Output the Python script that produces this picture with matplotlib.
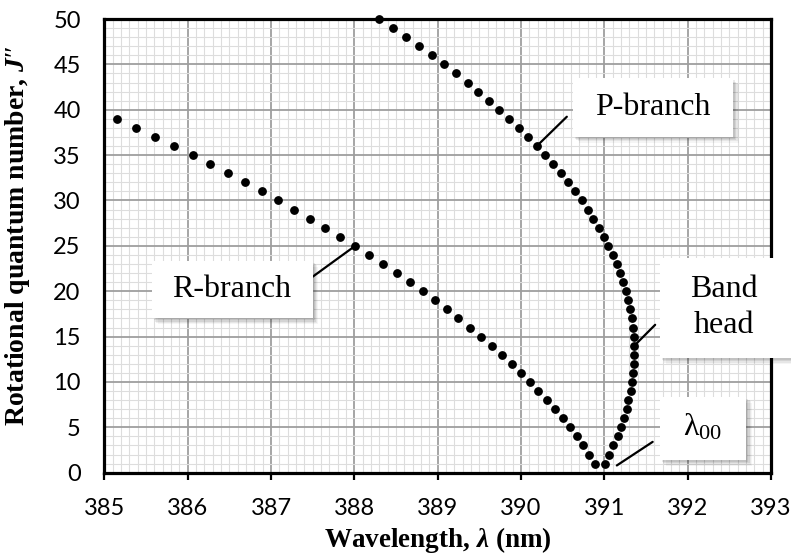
import numpy as np
import matplotlib.pyplot as plt
from matplotlib.patches import Rectangle

plt.rcParams['mathtext.fontset'] = 'custom'
plt.rcParams['mathtext.rm'] = 'Liberation Serif'
plt.rcParams['mathtext.it'] = 'Liberation Serif:italic:bold'

# R-branch: J'' = 1..39, wavelength (nm)
r_j = list(range(1, 40))
r_wl = [390.89, 390.82, 390.75, 390.67, 390.59, 390.50, 390.41, 390.31, 390.21, 390.11,
        390.00, 389.89, 389.77, 389.65, 389.52, 389.39, 389.25, 389.11, 388.97, 388.82,
        388.67, 388.51, 388.35, 388.18, 388.01, 387.83, 387.65, 387.47, 387.28, 387.09,
        386.89, 386.69, 386.48, 386.27, 386.06, 385.84, 385.61, 385.38, 385.15]

# P-branch: J'' = 1..50
p_j = list(range(1, 51))
p_wl = [391.01, 391.06, 391.11, 391.16, 391.20, 391.24, 391.27, 391.29, 391.32, 391.33,
        391.35, 391.36, 391.36, 391.36, 391.36, 391.35, 391.33, 391.31, 391.29, 391.26,
        391.23, 391.19, 391.15, 391.10, 391.05, 391.00, 390.94, 390.87, 390.80, 390.73,
        390.65, 390.57, 390.48, 390.39, 390.29, 390.19, 390.09, 389.98, 389.86, 389.74,
        389.62, 389.49, 389.36, 389.22, 389.08, 388.93, 388.78, 388.62, 388.46, 388.30]

x_ticks = np.arange(385, 394, 1)
y_ticks = np.arange(0, 51, 5)

fig = plt.figure(figsize=(7.91, 5.56), dpi=100)
ax = fig.add_axes([0.1319, 0.1498, 0.8428, 0.8160])

ax.plot(r_wl, r_j, 'o', color='black', ms=5.3, clip_on=False, zorder=4)
ax.plot(p_wl, p_j, 'o', color='black', ms=5.3, clip_on=False, zorder=4)

ax.set_xlim(385, 393)
ax.set_ylim(0, 50)
ax.set_xticks(x_ticks)
ax.set_yticks(y_ticks)
ax.set_xticks(np.arange(385, 393.01, 0.1), minor=True)
ax.set_yticks(np.arange(0, 50.1, 1), minor=True)
ax.set_axisbelow(True)
ax.grid(which='minor', color='#dddddd', lw=0.8)
ax.grid(which='major', color='#9e9e9e', lw=1.3)
ax.tick_params(which='minor', length=0)
ax.tick_params(axis='x', which='major', direction='out', length=5, width=1.6, pad=13,
               labelsize=17)
ax.tick_params(axis='y', which='major', length=0, pad=17, labelsize=17)
for lab in ax.get_xticklabels() + ax.get_yticklabels():
    lab.set_family('Lato')
for sp in ax.spines.values():
    sp.set_linewidth(2.3)
    sp.set_color('black')

ax.set_xlabel('Wavelength, $\\mathit{λ}$ (nm)', family='Liberation Serif',
              fontweight='bold', fontsize=19.5)
ax.set_ylabel('Rotational quantum number, $\\mathit{J″}$', family='Liberation Serif',
              fontweight='bold', fontsize=20)
ax.xaxis.set_label_coords(0.5, -0.115)
ax.yaxis.set_label_coords(-0.108, 0.522)


def label_box(x0, x1, y0, y1):
    # soft drop shadow, then white box
    for off, a in [(0.07, 0.04), (0.055, 0.06), (0.04, 0.08), (0.025, 0.08)]:
        ax.add_patch(Rectangle((x0 + off, y0 - off * 9.2), x1 - x0, y1 - y0,
                               facecolor='black', alpha=a, edgecolor='none',
                               clip_on=False, zorder=5))
    ax.add_patch(Rectangle((x0, y0), x1 - x0, y1 - y0, facecolor='white',
                           edgecolor='none', clip_on=False, zorder=6))


txt = dict(family='Liberation Serif', fontsize=23, ha='center', va='center', zorder=7)
line = dict(arrowstyle='-', lw=1.6, color='black', shrinkA=0, shrinkB=0)

# P-branch
label_box(390.625, 392.544, 37.03, 43.47)
ax.text(391.58, 40.25, 'P-branch', **txt)
ax.annotate('', xy=(p_wl[35], p_j[35]), xytext=(390.55, 39.23), arrowprops=line,
            zorder=5)

# R-branch
label_box(385.569, 387.499, 17.02, 23.36)
ax.text(386.53, 20.19, 'R-branch', **txt)
ax.annotate('', xy=(r_wl[24], r_j[24]), xytext=(387.50, 21.6), arrowprops=line,
            zorder=5)

# Band head
label_box(391.665, 393.6, 12.64, 23.66)
ax.text(392.44, 18.2, 'Band\nhead', linespacing=1.3, **txt)
ax.annotate('', xy=(p_wl[13], p_j[13]), xytext=(391.61, 16.3), arrowprops=line,
            zorder=5)

# lambda_00
label_box(391.665, 392.705, 1.40, 8.38)
ax.text(392.18, 5.0, '$\\mathrm{λ}_{\\mathrm{00}}$', **txt)
ax.annotate('', xy=(391.15, 0.8), xytext=(391.58, 3.4), arrowprops=line, zorder=5)

fig.savefig('out.png', dpi=100)
